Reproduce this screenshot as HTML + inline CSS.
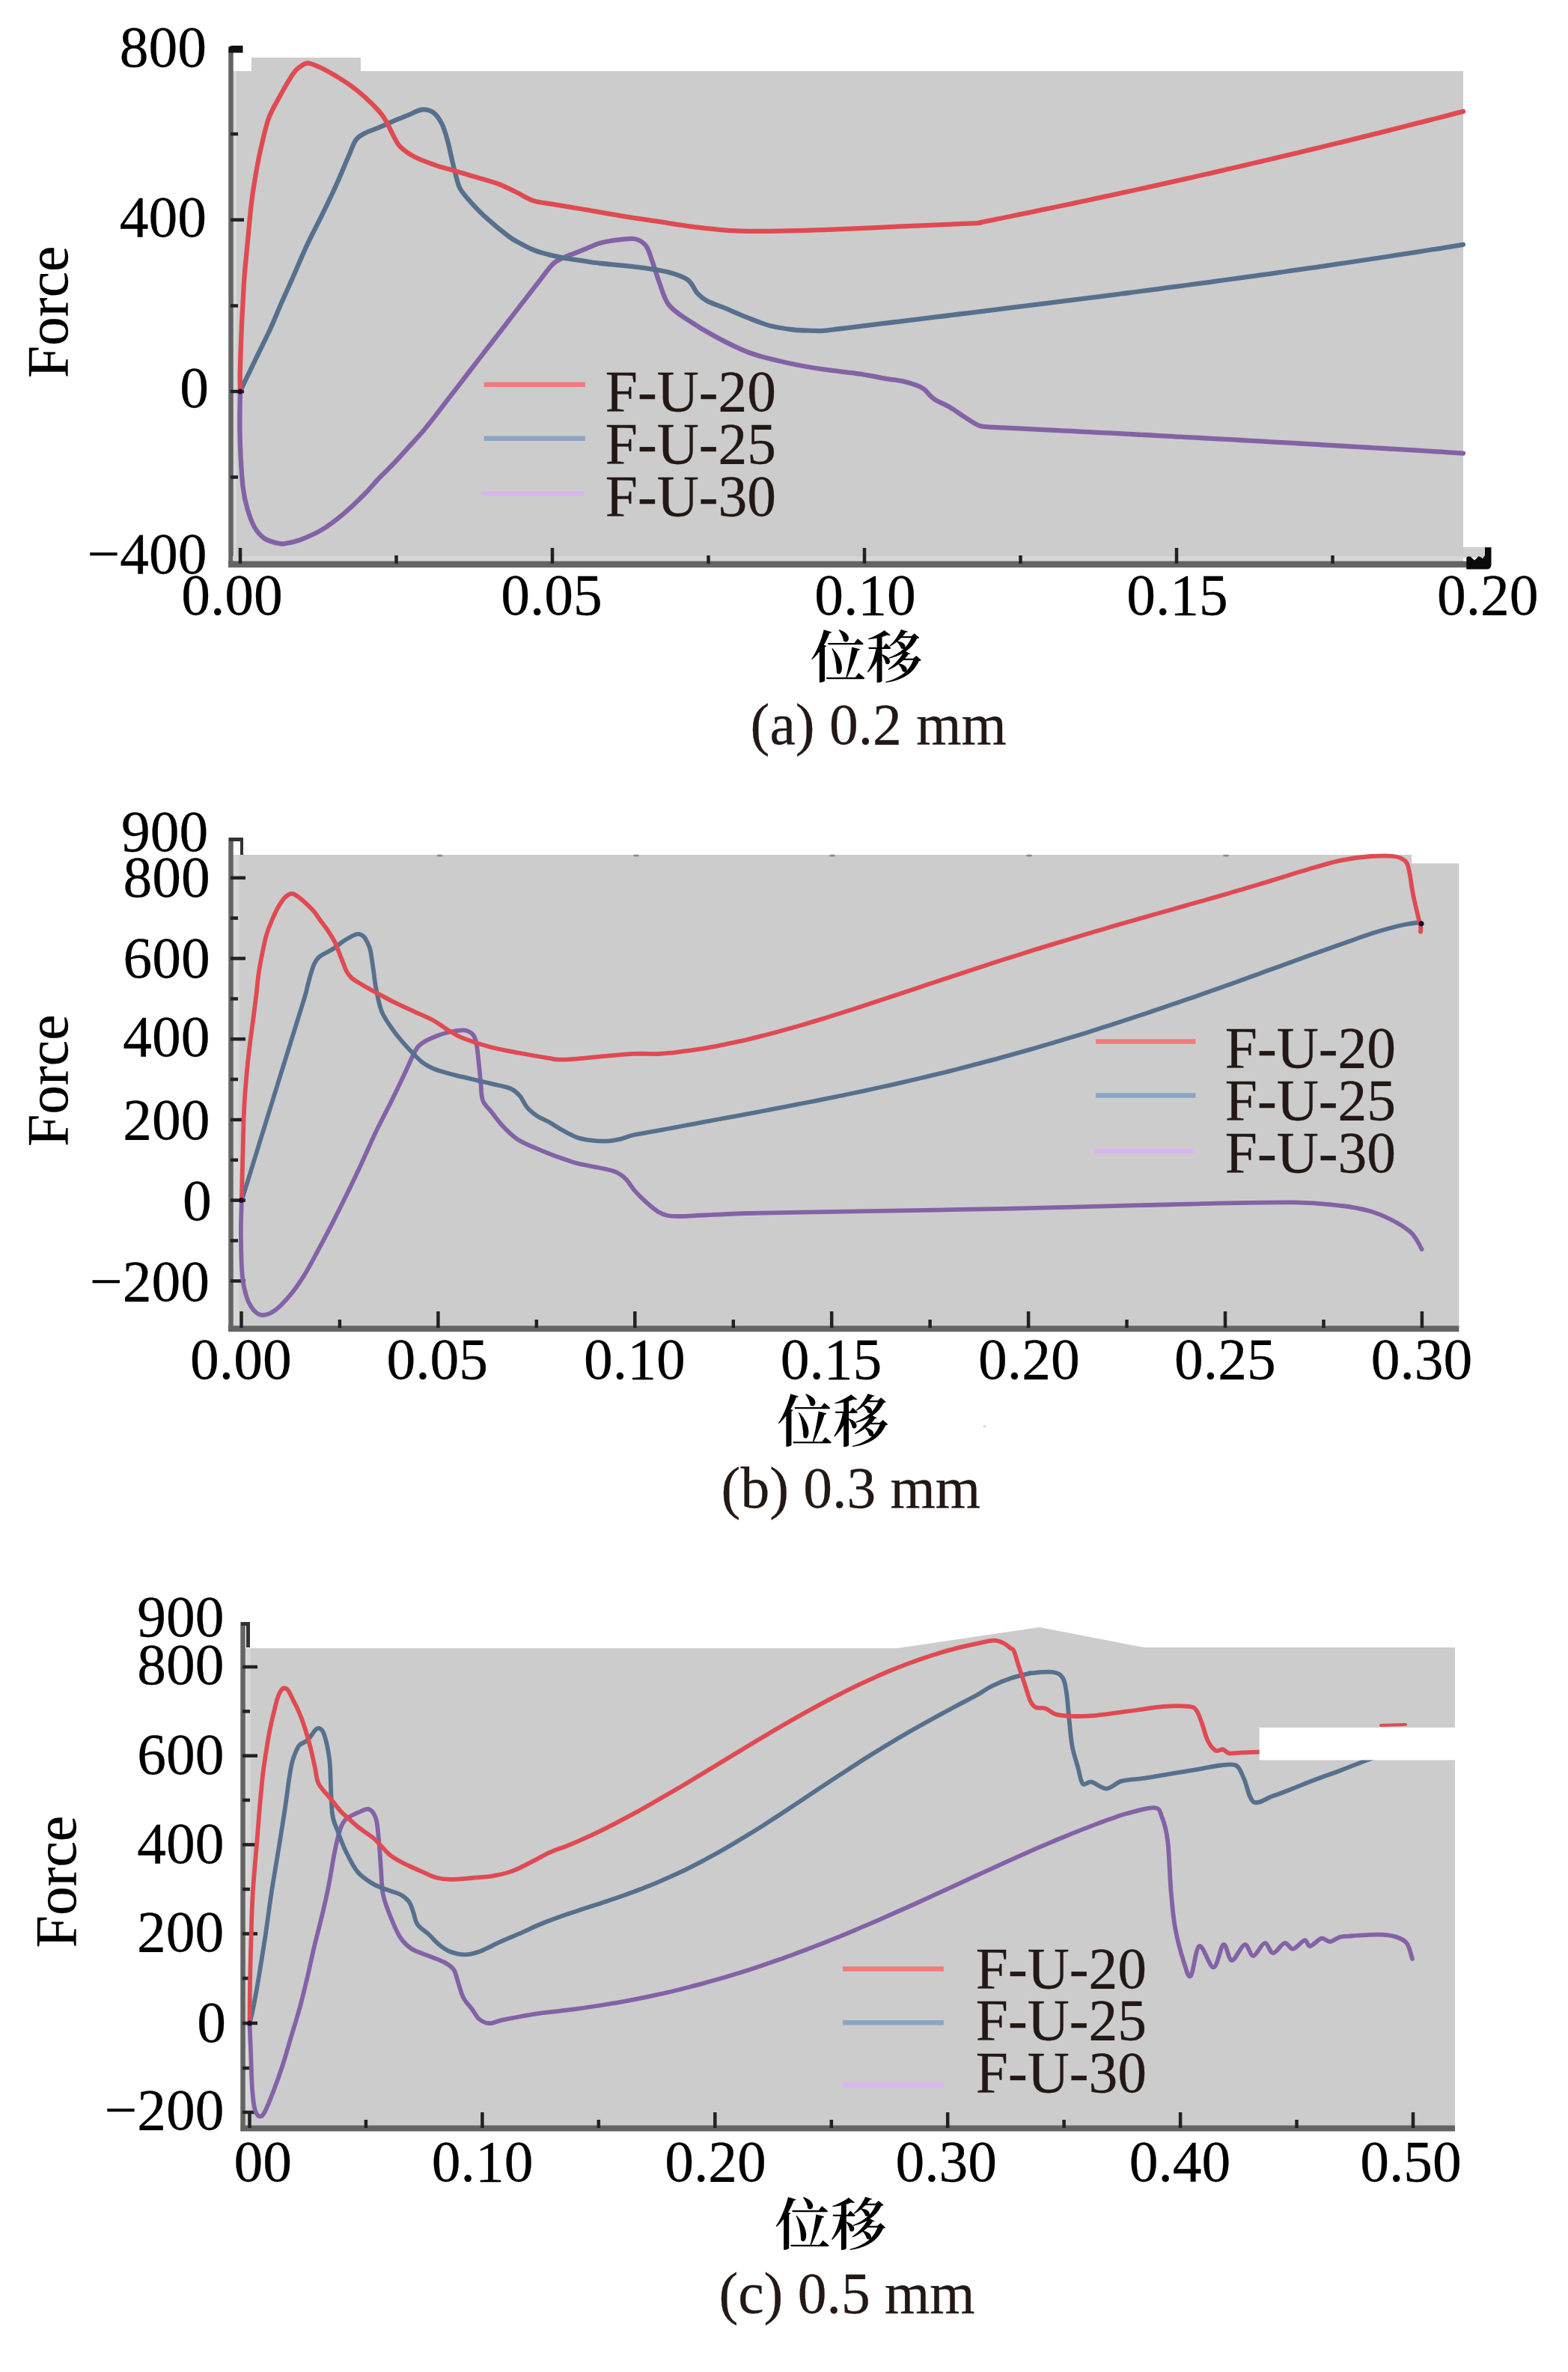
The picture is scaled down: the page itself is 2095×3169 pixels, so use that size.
<!DOCTYPE html>
<html><head><meta charset="utf-8"><title>Force-displacement curves</title>
<style>
html,body{margin:0;padding:0;background:#fff;}
body{width:2095px;height:3169px;overflow:hidden;}
svg{display:block;}
</style></head>
<body>
<svg xmlns="http://www.w3.org/2000/svg" width="2095" height="3169" viewBox="0 0 2095 3169">
<rect width="2095" height="3169" fill="#ffffff"/>
<polygon points="311,95 336,95 336,77 482,77 482,95 1955,95 1955,750 311,750" fill="#cccccc"/>
<rect x="311" y="95" width="5" height="652" fill="#d6d9d9"/>
<line x1="308.5" y1="62" x2="308.5" y2="757" stroke="#646464" stroke-width="6.5"/>
<path d="M305.5 70.5 L305.5 66 Q305.5 61 310.5 61 L324.5 61 L324.5 70.5 Z" fill="#111"/>
<line x1="308" y1="293.7" x2="326" y2="293.7" stroke="#222" stroke-width="4.5"/>
<line x1="308" y1="523" x2="326" y2="523" stroke="#222" stroke-width="4.5"/>
<line x1="308" y1="752.3" x2="326" y2="752.3" stroke="#222" stroke-width="4.5"/>
<line x1="308" y1="179" x2="318" y2="179" stroke="#222" stroke-width="4.5"/>
<line x1="308" y1="408.5" x2="318" y2="408.5" stroke="#222" stroke-width="4.5"/>
<line x1="308" y1="637.5" x2="318" y2="637.5" stroke="#222" stroke-width="4.5"/>
<rect x="311" y="743" width="1644" height="6" fill="#d6d6d6"/>
<rect x="1955" y="731" width="29" height="14" fill="#d0d0d0"/>
<line x1="305" y1="754" x2="1991" y2="754" stroke="#646464" stroke-width="8.5"/>
<line x1="321" y1="732" x2="321" y2="753" stroke="#222" stroke-width="4.5"/>
<line x1="738" y1="732" x2="738" y2="753" stroke="#222" stroke-width="4.5"/>
<line x1="1155" y1="732" x2="1155" y2="753" stroke="#222" stroke-width="4.5"/>
<line x1="1572" y1="732" x2="1572" y2="753" stroke="#222" stroke-width="4.5"/>
<line x1="529.5" y1="742" x2="529.5" y2="753" stroke="#222" stroke-width="4.5"/>
<line x1="946.5" y1="742" x2="946.5" y2="753" stroke="#222" stroke-width="4.5"/>
<line x1="1363.5" y1="742" x2="1363.5" y2="753" stroke="#222" stroke-width="4.5"/>
<line x1="1780.5" y1="742" x2="1780.5" y2="753" stroke="#222" stroke-width="4.5"/>
<path d="M1959.3 760.6 L1959.3 745 Q1962 742 1965 744 L1970 748.5 L1976 743 L1981 746 L1984 742 L1984 731.3 L1992.5 731.3 L1992.5 755 Q1992 760.6 1986 760.6 Z" fill="#0a0a0a"/>
<path d="M321.1 522.3 C321 524.5 320.8 527.1 320.7 535.7 C320.6 544.3 320.2 561.2 320.4 574 C320.6 586.8 321 599.5 321.7 612.2 C322.4 625 323.2 639.3 324.6 650.5 C326 661.7 327.8 670.3 330.3 679.2 C332.9 688.1 336.1 697.3 339.9 704 C343.7 710.7 347.9 715.6 353.3 719.3 C358.7 723 367.6 724.9 372.4 726 C377.2 727.1 377.2 726.8 382 726 C386.8 725.2 393.1 724.2 401.1 721.2 C409.1 718.2 420.2 713.6 429.8 707.9 C439.4 702.2 448.9 694.8 458.5 686.8 C468.1 678.8 479.2 668 487.2 660 C495.2 652 499.9 645.7 506.3 639 C512.7 632.3 519.1 626.5 525.5 619.8 C531.9 613.1 538.2 605.8 544.6 598.8 C551 591.8 557.3 585.3 563.7 577.8 C570.1 570.3 577.2 561.2 582.9 553.9 C588.6 546.6 593 540.8 598 534.2 C603 527.7 608.1 521.1 613.1 514.6 C618.1 508.1 623.2 501.6 628.2 495 C633.2 488.4 638.2 481.9 643.3 475.3 C648.3 468.8 653.5 462.2 658.5 455.7 C663.5 449.2 668.6 442.7 673.6 436.2 C678.6 429.7 683.7 423.1 688.7 416.6 C693.7 410.1 698.8 403.6 703.8 397.1 C708.8 390.6 713.9 384.1 718.9 377.6 C723.9 371.1 730.3 362.6 734 358.1 C737.7 353.6 738.1 352.9 741.2 350.6 C744.3 348.3 748.2 346.4 752.7 344.4 C757.2 342.3 762.9 340.3 768 338.3 C773.1 336.3 778 334.4 783.3 332.2 C788.6 330 794.4 327.1 800 325.3 C805.6 323.5 808.9 322.7 816.8 321.6 C824.7 320.6 839.7 317.9 847.4 319 C855.1 320.1 859 323.5 862.8 328 C866.6 332.5 867.4 337.7 870.4 345.8 C873.4 353.9 876.8 366.2 880.6 376.4 C884.4 386.6 887 398.5 893.4 407 C899.8 415.5 908.3 420.2 918.9 427.4 C929.5 434.6 943.6 443.2 957.1 450.4 C970.6 457.6 986.2 465.5 1000 470.8 C1013.8 476.1 1028.3 479.1 1040 482 C1051.7 484.9 1060 486.6 1070 488.5 C1080 490.4 1086.5 491.5 1100 493.4 C1113.5 495.3 1137.7 497.8 1151 499.8 C1164.3 501.8 1170.9 503.8 1180 505.3 C1189.1 506.9 1198.1 507.5 1205.5 509.1 C1212.9 510.7 1219.7 513 1224.6 514.8 C1229.5 516.6 1231.6 517.5 1234.8 520 C1238 522.5 1241 527 1243.8 529.5 C1246.6 532 1247.2 532.8 1251.4 535.3 C1255.7 537.8 1263.1 540.6 1269.3 544.2 C1275.5 547.8 1282 552.9 1288.4 556.9 C1294.8 560.9 1302.3 566.1 1307.6 568.4 C1312.9 570.6 1314.9 569.9 1320.3 570.4 C1325.7 570.9 1333.5 571 1340.1 571.3 C1346.7 571.6 1353.4 572 1360 572.3 C1366.6 572.6 1373.2 573 1379.8 573.3 C1386.4 573.6 1393 574 1399.6 574.3 C1406.2 574.6 1412.9 575 1419.5 575.3 C1426.1 575.6 1432.7 575.9 1439.3 576.3 C1445.9 576.6 1452.5 577 1459.1 577.4 C1465.7 577.8 1472.4 578.1 1479 578.4 C1485.6 578.7 1492.2 579 1498.8 579.4 C1505.4 579.8 1512 580.1 1518.6 580.5 C1525.2 580.9 1531.9 581.1 1538.5 581.5 C1545.1 581.9 1551.7 582.2 1558.3 582.6 C1564.9 583 1571.5 583.4 1578.1 583.7 C1584.7 584.1 1591.4 584.4 1598 584.7 C1604.6 585.1 1611.2 585.4 1617.8 585.8 C1624.4 586.2 1631.1 586.5 1637.7 586.9 C1644.3 587.3 1650.9 587.6 1657.5 588 C1664.1 588.4 1670.7 588.7 1677.3 589.1 C1683.9 589.5 1690.6 589.9 1697.2 590.3 C1703.8 590.7 1710.4 591 1717 591.4 C1723.6 591.8 1730.2 592.1 1736.8 592.5 C1743.4 592.9 1750.1 593.3 1756.7 593.7 C1763.3 594.1 1769.9 594.4 1776.5 594.8 C1783.1 595.2 1789.7 595.6 1796.3 596 C1802.9 596.4 1809.6 596.8 1816.2 597.2 C1822.8 597.6 1829.4 597.9 1836 598.3 C1842.6 598.7 1849.2 599.1 1855.8 599.5 C1862.4 599.9 1869.1 600.3 1875.7 600.7 C1882.3 601.1 1888.9 601.5 1895.5 601.9 C1902.1 602.3 1908.7 602.7 1915.3 603.1 C1921.9 603.5 1928.6 603.9 1935.2 604.3 C1941.8 604.7 1951.7 605.4 1955 605.6" fill="none" stroke="#8462a6" stroke-width="6.3" stroke-linejoin="round" stroke-linecap="round"/>
<path d="M321.1 522.3 C324.4 515.4 334.4 494.7 341 481 C347.6 467.3 355.2 452.3 360.9 440 C366.6 427.7 369.9 418.7 375 407 C380.1 395.3 385.6 383.4 391.5 370 C397.4 356.6 404.3 340 410.7 326.4 C417.1 312.8 423.4 301.2 429.8 288.1 C436.2 275 442.8 261.3 448.9 247.9 C454.9 234.5 461.6 218 466.1 207.8 C470.6 197.6 472.2 191.6 475.7 186.7 C479.2 181.8 482.1 180.8 487.2 178.1 C492.3 175.4 499.9 173.1 506.3 170.4 C512.7 167.7 519.1 164.5 525.5 161.8 C531.9 159.1 538.2 156.8 544.6 154.2 C551 151.6 558 147.1 563.7 146.5 C569.4 145.9 574.5 147.2 579 150.4 C583.5 153.6 587.3 159.3 590.5 165.7 C593.7 172.1 596 180.6 598.2 188.6 C600.4 196.6 602 205.5 603.9 213.5 C605.8 221.5 607.7 229.9 609.6 236.5 C611.5 243.1 611.8 247.1 615.3 253 C618.8 258.9 624.6 265.3 630.6 271.8 C636.6 278.3 642.8 284.8 651 292.2 C659.2 299.6 672.6 310.6 680 316.1 C687.4 321.6 690.2 322.5 695.3 325.3 C700.4 328.1 705.5 330.8 710.6 333 C715.7 335.2 720.8 336.8 725.9 338.3 C731 339.8 736.1 341 741.2 342.1 C746.3 343.2 751.4 344.3 756.5 345.2 C761.6 346.1 766.7 346.7 771.8 347.5 C776.9 348.3 781.7 349.1 787.1 349.8 C792.5 350.6 792.8 350.8 804.1 352 C815.4 353.2 840.2 355.4 855.1 357.3 C870 359.2 882.8 360.9 893.4 363.7 C904 366.5 912.5 369.2 918.9 373.9 C925.3 378.6 927.4 387 931.6 391.7 C935.9 396.4 938 398.5 944.4 401.9 C950.8 405.3 960.6 408.3 969.9 412.1 C979.2 415.9 990 421 1000 424.9 C1010 428.8 1020 432.9 1030 435.5 C1040 438.1 1050.8 439.4 1060 440.5 C1069.2 441.6 1078.3 441.6 1085 441.8 C1091.7 442 1094.2 442.3 1100 441.9 C1105.8 441.5 1113.3 440.3 1119.9 439.5 C1126.5 438.7 1133.2 437.9 1139.8 437.1 C1146.4 436.3 1153.1 435.4 1159.7 434.6 C1166.3 433.8 1172.9 433 1179.5 432.2 C1186.1 431.4 1192.8 430.6 1199.4 429.8 C1206 429 1212.7 428.2 1219.3 427.4 C1225.9 426.6 1232.6 425.7 1239.2 424.9 C1245.8 424.1 1252.5 423.3 1259.1 422.5 C1265.7 421.7 1272.4 420.8 1279 420 C1285.6 419.2 1292.2 418.4 1298.8 417.6 C1305.4 416.8 1312.1 415.9 1318.7 415.1 C1325.3 414.3 1332 413.5 1338.6 412.7 C1345.2 411.9 1351.9 411 1358.5 410.2 C1365.1 409.4 1371.8 408.5 1378.4 407.7 C1385 406.9 1391.7 406 1398.3 405.2 C1404.9 404.4 1411.5 403.5 1418.1 402.7 C1424.7 401.9 1431.4 401 1438 400.2 C1444.6 399.4 1451.3 398.5 1457.9 397.7 C1464.5 396.9 1471.2 396 1477.8 395.1 C1484.4 394.2 1491.1 393.4 1497.7 392.5 C1504.3 391.6 1511 390.9 1517.6 390 C1524.2 389.1 1530.8 388.3 1537.4 387.4 C1544 386.5 1550.7 385.6 1557.3 384.7 C1563.9 383.8 1570.6 383 1577.2 382.1 C1583.8 381.2 1590.5 380.3 1597.1 379.4 C1603.7 378.5 1610.4 377.7 1617 376.8 C1623.6 375.9 1630.3 374.9 1636.9 374 C1643.5 373.1 1650.1 372.2 1656.7 371.3 C1663.3 370.4 1670 369.5 1676.6 368.6 C1683.2 367.7 1689.9 366.7 1696.5 365.8 C1703.1 364.9 1709.8 363.9 1716.4 363 C1723 362.1 1729.7 361.1 1736.3 360.1 C1742.9 359.2 1749.6 358.2 1756.2 357.3 C1762.8 356.4 1769.4 355.4 1776 354.4 C1782.6 353.4 1789.3 352.5 1795.9 351.5 C1802.5 350.5 1809.2 349.5 1815.8 348.5 C1822.4 347.5 1829.1 346.5 1835.7 345.5 C1842.3 344.5 1849 343.5 1855.6 342.5 C1862.2 341.5 1868.9 340.4 1875.5 339.4 C1882.1 338.4 1888.7 337.3 1895.3 336.3 C1901.9 335.3 1908.6 334.2 1915.2 333.2 C1921.8 332.2 1928.5 331.2 1935.1 330.1 C1941.7 329 1951.7 327.4 1955 326.8" fill="none" stroke="#56708e" stroke-width="6.3" stroke-linejoin="round" stroke-linecap="round"/>
<path d="M321.1 522.3 C321.1 518.1 320.5 510.7 320.8 497 C321.1 483.3 322 456.2 322.7 440 C323.4 423.8 324.2 411.7 324.8 400 C325.4 388.3 325.4 383.6 326.5 370 C327.6 356.4 329.7 335.2 331.3 318.7 C332.9 302.2 334.2 285.2 336 270.9 C337.8 256.5 339.6 245.3 341.8 232.6 C344 219.8 346.5 206.8 349.4 194.4 C352.3 182 355.2 168.5 359 158 C362.8 147.5 367 141.1 372.4 131.2 C377.8 121.3 386.7 105.7 391.5 98.7 C396.3 91.7 397.8 91.5 401.1 89.1 C404.5 86.7 406.8 84 411.6 84.3 C416.4 84.6 423.6 88.1 429.8 91 C436 93.9 442.5 97.8 448.9 101.6 C455.3 105.4 461.7 109.4 468.1 114 C474.5 118.6 480.8 123.6 487.2 129.3 C493.6 135 501.5 143 506.3 148.4 C511.1 153.8 512.7 156.4 515.9 161.8 C519.1 167.2 522.3 175.2 525.5 181 C528.7 186.8 530.2 191.5 535 196.3 C539.8 201.1 546.2 205.6 554.2 209.7 C562.2 213.8 575.3 218.4 582.9 221.1 C590.5 223.8 592.9 223.9 600 226 C607.1 228.1 614.9 230.4 625.5 233.6 C636.1 236.8 653.2 241.2 663.8 245 C674.4 248.8 681.2 252.7 689.3 256.5 C697.4 260.3 703.7 265.2 712.2 268 C720.7 270.8 729.2 271.2 740.3 273.1 C751.4 275 763.7 276.9 778.6 279.5 C793.5 282.1 812.6 285.6 829.6 288.4 C846.6 291.2 863.6 293.6 880.6 296.1 C897.6 298.7 916.7 301.8 931.6 303.7 C946.5 305.6 958.5 306.8 969.9 307.6 C981.3 308.5 988.3 308.6 1000 308.8 C1011.7 309 1023.3 308.9 1040 308.6 C1056.7 308.3 1073.3 308.2 1100 307.2 C1126.7 306.2 1166.7 304.2 1200 302.7 C1233.3 301.2 1281.7 299.2 1300 298.3 C1318.3 297.4 1305 298 1310 297.1 C1315 296.2 1323.5 294.5 1330.2 293.1 C1336.9 291.8 1343.6 290.4 1350.3 289 C1357 287.6 1363.8 286.3 1370.5 284.9 C1377.2 283.5 1383.9 282.1 1390.6 280.7 C1397.3 279.3 1404.1 277.9 1410.8 276.5 C1417.5 275.1 1424.2 273.7 1430.9 272.3 C1437.6 270.9 1444.4 269.4 1451.1 268 C1457.8 266.6 1464.5 265.1 1471.2 263.7 C1477.9 262.3 1484.7 260.8 1491.4 259.4 C1498.1 257.9 1504.9 256.5 1511.6 255 C1518.3 253.5 1525 252.1 1531.7 250.6 C1538.4 249.1 1545.2 247.6 1551.9 246.1 C1558.6 244.6 1565.3 243.1 1572 241.6 C1578.7 240.1 1585.5 238.6 1592.2 237.1 C1598.9 235.6 1605.6 234 1612.3 232.5 C1619 231 1625.8 229.5 1632.5 227.9 C1639.2 226.3 1646 224.8 1652.7 223.2 C1659.4 221.6 1666.1 220.1 1672.8 218.5 C1679.5 216.9 1686.3 215.4 1693 213.8 C1699.7 212.2 1706.4 210.6 1713.1 209 C1719.8 207.4 1726.6 205.8 1733.3 204.2 C1740 202.6 1746.7 201 1753.4 199.4 C1760.1 197.8 1766.9 196.1 1773.6 194.5 C1780.3 192.9 1787.1 191.2 1793.8 189.6 C1800.5 187.9 1807.2 186.3 1813.9 184.6 C1820.6 182.9 1827.4 181.3 1834.1 179.6 C1840.8 177.9 1847.5 176.3 1854.2 174.6 C1860.9 172.9 1867.7 171.2 1874.4 169.5 C1881.1 167.8 1887.8 166.1 1894.5 164.4 C1901.2 162.7 1908 161 1914.7 159.3 C1921.4 157.6 1928.1 155.8 1934.8 154.1 C1941.5 152.4 1951.6 149.8 1955 148.9" fill="none" stroke="#e04a52" stroke-width="6.3" stroke-linejoin="round" stroke-linecap="round"/>
<circle cx="321" cy="523" r="3.5" fill="#1a0a2a"/>
<line x1="646.7" y1="513.8" x2="781.9" y2="513.8" stroke="#f47a7a" stroke-width="6.4"/>
<line x1="646.7" y1="585.7" x2="781.9" y2="585.7" stroke="#8ca5c3" stroke-width="6.4"/>
<line x1="644" y1="659.7" x2="780.6" y2="659.7" stroke="#d8b6f0" stroke-width="6.4"/>
<text x="808.8" y="549" text-anchor="start" font-size="77.5" font-family="'Liberation Serif','Times New Roman',serif" fill="#231815" stroke="#231815" stroke-width="0.3">F-U-20</text>
<text x="808.8" y="619" text-anchor="start" font-size="77.5" font-family="'Liberation Serif','Times New Roman',serif" fill="#231815" stroke="#231815" stroke-width="0.3">F-U-25</text>
<text x="808.8" y="689" text-anchor="start" font-size="77.5" font-family="'Liberation Serif','Times New Roman',serif" fill="#231815" stroke="#231815" stroke-width="0.3">F-U-30</text>
<text x="276" y="89.3" text-anchor="end" font-size="77.5" font-family="'Liberation Serif','Times New Roman',serif" fill="#000000" stroke="#000000" stroke-width="0.3">800</text>
<text x="276" y="316.1" text-anchor="end" font-size="77.5" font-family="'Liberation Serif','Times New Roman',serif" fill="#000000" stroke="#000000" stroke-width="0.3">400</text>
<text x="279" y="543.7" text-anchor="end" font-size="77.5" font-family="'Liberation Serif','Times New Roman',serif" fill="#000000" stroke="#000000" stroke-width="0.3">0</text>
<text x="276.5" y="765.5" text-anchor="end" font-size="77.5" font-family="'Liberation Serif','Times New Roman',serif" fill="#000000" stroke="#000000" stroke-width="0.3">−400</text>
<text x="310" y="821" text-anchor="middle" font-size="77.5" font-family="'Liberation Serif','Times New Roman',serif" fill="#000000" stroke="#000000" stroke-width="0.3">0.00</text>
<text x="737" y="821" text-anchor="middle" font-size="77.5" font-family="'Liberation Serif','Times New Roman',serif" fill="#000000" stroke="#000000" stroke-width="0.3">0.05</text>
<text x="1156" y="821" text-anchor="middle" font-size="77.5" font-family="'Liberation Serif','Times New Roman',serif" fill="#000000" stroke="#000000" stroke-width="0.3">0.10</text>
<text x="1573" y="821" text-anchor="middle" font-size="77.5" font-family="'Liberation Serif','Times New Roman',serif" fill="#000000" stroke="#000000" stroke-width="0.3">0.15</text>
<text x="1987.8" y="821" text-anchor="middle" font-size="77.5" font-family="'Liberation Serif','Times New Roman',serif" fill="#000000" stroke="#000000" stroke-width="0.3">0.20</text>
<text x="0" y="0" text-anchor="start" font-size="77.5" font-family="'Liberation Serif','Times New Roman',serif" fill="#000000" stroke="#000000" stroke-width="0.3" transform="translate(90 505) rotate(-90)">Force</text>
<text x="1083" y="905" text-anchor="start" font-size="74.5" font-family="'Noto Serif CJK SC','Noto Serif CJK JP',serif" fill="#000000" font-weight="600">位移</text>
<text x="1002.6" y="993.5" text-anchor="start" font-size="77.5" font-family="'Liberation Serif','Times New Roman',serif" fill="#231815" stroke="#231815" stroke-width="0.3">(a) 0.2 mm</text>
<polygon points="311,1142 1886,1142 1886,1153.4 1949.4,1153.4 1949.4,1772 311,1772" fill="#cccccc"/>
<rect x="311" y="1142" width="8.5" height="628" fill="#d7d7d7"/>
<line x1="308.5" y1="1119" x2="308.5" y2="1779" stroke="#646464" stroke-width="6.5"/>
<path d="M306 1119 L325 1119 L325 1142 L321 1142 L321 1124 L306 1124 Z" fill="#333"/>
<line x1="308" y1="1172.8" x2="328" y2="1172.8" stroke="#222" stroke-width="4.5"/>
<line x1="308" y1="1280.5" x2="328" y2="1280.5" stroke="#222" stroke-width="4.5"/>
<line x1="308" y1="1388.2" x2="328" y2="1388.2" stroke="#222" stroke-width="4.5"/>
<line x1="308" y1="1496" x2="328" y2="1496" stroke="#222" stroke-width="4.5"/>
<line x1="308" y1="1603.6" x2="328" y2="1603.6" stroke="#222" stroke-width="4.5"/>
<line x1="308" y1="1711.4" x2="328" y2="1711.4" stroke="#222" stroke-width="4.5"/>
<line x1="308" y1="1226.6" x2="318" y2="1226.6" stroke="#222" stroke-width="4.5"/>
<line x1="308" y1="1334.4" x2="318" y2="1334.4" stroke="#222" stroke-width="4.5"/>
<line x1="308" y1="1442" x2="318" y2="1442" stroke="#222" stroke-width="4.5"/>
<line x1="308" y1="1549.8" x2="318" y2="1549.8" stroke="#222" stroke-width="4.5"/>
<line x1="308" y1="1657.5" x2="318" y2="1657.5" stroke="#222" stroke-width="4.5"/>
<line x1="305" y1="1775.3" x2="1949.4" y2="1775.3" stroke="#646464" stroke-width="8"/>
<line x1="322.5" y1="1752" x2="322.5" y2="1774" stroke="#222" stroke-width="4.5"/>
<line x1="585.4" y1="1752" x2="585.4" y2="1774" stroke="#222" stroke-width="4.5"/>
<line x1="848.3" y1="1752" x2="848.3" y2="1774" stroke="#222" stroke-width="4.5"/>
<line x1="1111.2" y1="1752" x2="1111.2" y2="1774" stroke="#222" stroke-width="4.5"/>
<line x1="1374.1" y1="1752" x2="1374.1" y2="1774" stroke="#222" stroke-width="4.5"/>
<line x1="1637" y1="1752" x2="1637" y2="1774" stroke="#222" stroke-width="4.5"/>
<line x1="1899.9" y1="1752" x2="1899.9" y2="1774" stroke="#222" stroke-width="4.5"/>
<line x1="453.9" y1="1763" x2="453.9" y2="1774" stroke="#222" stroke-width="4.5"/>
<line x1="716.8" y1="1763" x2="716.8" y2="1774" stroke="#222" stroke-width="4.5"/>
<line x1="979.8" y1="1763" x2="979.8" y2="1774" stroke="#222" stroke-width="4.5"/>
<line x1="1242.6" y1="1763" x2="1242.6" y2="1774" stroke="#222" stroke-width="4.5"/>
<line x1="1505.5" y1="1763" x2="1505.5" y2="1774" stroke="#222" stroke-width="4.5"/>
<line x1="1768.5" y1="1763" x2="1768.5" y2="1774" stroke="#222" stroke-width="4.5"/>
<ellipse cx="587.5" cy="1143" rx="4" ry="1.6" fill="#8c8c8c"/>
<ellipse cx="850" cy="1143" rx="4" ry="1.6" fill="#8c8c8c"/>
<ellipse cx="1112" cy="1143" rx="4" ry="1.6" fill="#8c8c8c"/>
<ellipse cx="1375" cy="1143" rx="4" ry="1.6" fill="#8c8c8c"/>
<ellipse cx="1638" cy="1143" rx="4" ry="1.6" fill="#8c8c8c"/>
<ellipse cx="1315.5" cy="1905.5" rx="2.2" ry="0.8" fill="#b0b0b0"/>
<path d="M322.9 1604 C322.7 1611.2 321.8 1630.3 321.9 1647 C322 1663.7 322.5 1690.1 323.8 1704.4 C325.1 1718.7 327.1 1725.3 329.6 1733 C332.1 1740.7 335.5 1746.3 339 1750.3 C342.5 1754.3 345.8 1757 350.6 1757 C355.4 1757 361.7 1754.6 367.8 1750.3 C373.9 1746 380.6 1738.8 387 1731.2 C393.4 1723.6 399.7 1714.6 406.1 1704.4 C412.5 1694.2 418.8 1681.8 425.2 1670 C431.6 1658.2 438 1646 444.4 1633.6 C450.8 1621.1 457.1 1608.4 463.5 1595.3 C469.9 1582.2 476.2 1568.9 482.6 1555.2 C489 1541.5 495 1527.2 501.8 1513 C508.6 1498.8 517 1483.2 523.5 1470 C530 1456.8 535.7 1444.8 540.8 1434 C545.9 1423.2 550.4 1412 554.2 1405.3 C558 1398.6 558.9 1397.4 563.7 1393.9 C568.5 1390.4 576.5 1386.9 582.9 1384.3 C589.3 1381.7 595.8 1379.8 602 1378.5 C608.2 1377.2 615.2 1375.8 620.2 1376.4 C625.2 1377 629 1379.2 631.7 1382.1 C634.4 1385 635.1 1387.9 636.4 1393.6 C637.7 1399.3 638.3 1407.9 639.3 1416.5 C640.3 1425.1 641.2 1436.3 642.2 1445.2 C643.2 1454.1 642.6 1463.4 645 1470.1 C647.4 1476.8 652 1479.7 656.5 1485.4 C661 1491.1 666 1498.4 671.8 1504.5 C677.5 1510.6 684 1517 691 1521.8 C698 1526.6 705.3 1529.4 713.9 1533.2 C722.5 1537 733 1541.2 742.6 1544.7 C752.2 1548.2 761.7 1551.8 771.3 1554.3 C780.9 1556.8 791.4 1558.1 800 1560 C808.6 1561.9 816.9 1563.2 823 1565.8 C829.1 1568.3 832.2 1571.2 836.4 1575.3 C840.5 1579.4 843.4 1585.5 847.9 1590.6 C852.4 1595.7 857.9 1601.2 863.2 1606 C868.6 1610.8 875.2 1616.3 880 1619.3 C884.8 1622.3 887 1623 892 1624 C897 1625 902 1625.1 910 1625 C918 1624.9 925 1624.2 940 1623.5 C955 1622.8 976 1621.7 1000 1621 C1024 1620.3 1027 1620.3 1084 1619.3 C1141 1618.3 1256 1616.6 1342 1614.8 C1428 1613 1535.5 1609.7 1600 1608.3 C1664.5 1606.9 1696.5 1606 1728.7 1606.4 C1760.9 1606.9 1776.1 1609.1 1793 1611 C1809.9 1612.9 1819.2 1615 1830 1618 C1840.8 1621 1848.8 1624.5 1857.7 1629 C1866.6 1633.5 1877.6 1640.3 1883.5 1645 C1889.4 1649.7 1890.3 1653 1893 1657 C1895.7 1661 1898.5 1667 1899.6 1669" fill="none" stroke="#8462a6" stroke-width="5.8" stroke-linejoin="round" stroke-linecap="round"/>
<path d="M322.9 1604 C329.8 1581.8 350.4 1515 364 1471 C377.6 1427 397 1365.3 404.7 1340 C412.4 1314.7 408.6 1325.9 410.4 1319.3 C412.2 1312.7 413.9 1305.5 415.5 1300.2 C417.1 1294.9 418.3 1290.9 420 1287.4 C421.7 1283.9 423.3 1281.4 425.7 1279.1 C428.1 1276.8 431.2 1275.4 434.6 1273.4 C438 1271.4 442.4 1269.5 446.1 1267 C449.8 1264.5 453.1 1261.4 457 1258.7 C460.9 1256 466.1 1252.8 469.7 1251 C473.3 1249.2 475.9 1247.9 478.6 1247.9 C481.3 1247.9 483.8 1249.4 485.7 1251 C487.6 1252.6 488.5 1254.3 490 1257.4 C491.5 1260.5 493.4 1263.3 494.8 1269.5 C496.2 1275.7 497.4 1285.8 498.7 1294.4 C500 1303 500.6 1311.5 502.5 1321.1 C504.4 1330.7 506.4 1342.5 510.2 1351.8 C514 1361 519.8 1368.6 525.5 1376.6 C531.2 1384.6 538.2 1392.6 544.6 1399.6 C551 1406.6 557.8 1414 563.7 1418.7 C569.6 1423.4 575.2 1425.8 580 1428 C584.8 1430.2 587.6 1430.7 592.4 1432.1 C597.2 1433.5 601.2 1434.7 608.7 1436.6 C616.2 1438.5 627.8 1441.1 637.4 1443.3 C647 1445.5 658.5 1448.1 666.1 1450 C673.8 1451.9 678.5 1452.4 683.3 1454.8 C688.1 1457.2 691.3 1460.2 694.8 1464.4 C698.3 1468.6 700.6 1475.2 704.4 1479.7 C708.2 1484.2 713 1487.9 717.8 1491.1 C722.6 1494.3 727.3 1495.6 733 1498.8 C738.7 1502 745.8 1506.8 752.2 1510.3 C758.6 1513.8 764.9 1517.6 771.3 1519.8 C777.7 1522 784.1 1522.9 790.5 1523.7 C796.9 1524.5 803.2 1524.9 809.6 1524.6 C816 1524.3 822.3 1523.2 828.7 1521.8 C835.1 1520.4 839.4 1517.9 847.9 1516 C856.4 1514.1 871.4 1511.9 880 1510.3 C888.6 1508.7 893.2 1507.8 899.8 1506.6 C906.4 1505.4 913 1504.1 919.6 1502.9 C926.2 1501.7 932.8 1500.4 939.4 1499.2 C946 1498 952.6 1496.7 959.2 1495.5 C965.8 1494.3 972.4 1493.1 979 1491.9 C985.6 1490.7 992.2 1489.4 998.8 1488.2 C1005.4 1487 1011.9 1485.8 1018.5 1484.5 C1025.1 1483.2 1031.7 1482 1038.3 1480.7 C1044.9 1479.4 1051.5 1478.2 1058.1 1476.9 C1064.7 1475.6 1071.3 1474.3 1077.9 1473 C1084.5 1471.7 1091.1 1470.4 1097.7 1469.1 C1104.3 1467.8 1110.9 1466.4 1117.5 1465.1 C1124.1 1463.8 1130.7 1462.4 1137.3 1461 C1143.9 1459.6 1150.5 1458.2 1157.1 1456.8 C1163.7 1455.4 1170.3 1454 1176.9 1452.5 C1183.5 1451 1190.1 1449.6 1196.7 1448.1 C1203.3 1446.6 1209.9 1445 1216.5 1443.5 C1223.1 1442 1229.6 1440.5 1236.2 1438.9 C1242.8 1437.3 1249.4 1435.7 1256 1434.1 C1262.6 1432.5 1269.2 1430.9 1275.8 1429.2 C1282.4 1427.5 1289 1425.8 1295.6 1424.1 C1302.2 1422.4 1308.8 1420.7 1315.4 1418.9 C1322 1417.2 1328.6 1415.4 1335.2 1413.6 C1341.8 1411.8 1348.4 1409.9 1355 1408.1 C1361.6 1406.3 1368.2 1404.5 1374.8 1402.6 C1381.4 1400.7 1388 1398.7 1394.6 1396.8 C1401.2 1394.9 1407.8 1393 1414.4 1391 C1421 1389 1427.6 1387 1434.2 1385 C1440.8 1383 1447.4 1381 1454 1378.9 C1460.6 1376.8 1467.2 1374.7 1473.8 1372.6 C1480.4 1370.5 1486.9 1368.3 1493.5 1366.2 C1500.1 1364.1 1506.7 1362 1513.3 1359.8 C1519.9 1357.6 1526.5 1355.4 1533.1 1353.2 C1539.7 1351 1546.3 1348.8 1552.9 1346.5 C1559.5 1344.2 1566.1 1342 1572.7 1339.7 C1579.3 1337.4 1585.9 1335.2 1592.5 1332.9 C1599.1 1330.6 1605.7 1328.2 1612.3 1325.9 C1618.9 1323.6 1625.5 1321.2 1632.1 1318.9 C1638.7 1316.6 1645.3 1314.3 1651.9 1311.9 C1658.5 1309.5 1665.1 1307.1 1671.7 1304.7 C1678.3 1302.3 1684.9 1300 1691.5 1297.6 C1698.1 1295.2 1704.6 1292.9 1711.2 1290.5 C1717.8 1288.1 1724.4 1285.7 1731 1283.3 C1737.6 1280.9 1744.2 1278.5 1750.8 1276.1 C1757.4 1273.7 1764 1271.4 1770.6 1269 C1777.2 1266.6 1783.8 1264.2 1790.4 1261.9 C1797 1259.6 1803.6 1257.2 1810.2 1254.9 C1816.8 1252.6 1822.2 1250.4 1830 1247.9 C1837.8 1245.4 1849.1 1242.2 1857.1 1240 C1865.1 1237.8 1871.6 1236.2 1878 1235 C1884.4 1233.8 1891.9 1232.8 1895.4 1232.5 C1898.9 1232.2 1898.4 1233.3 1899 1233.5" fill="none" stroke="#56708e" stroke-width="5.8" stroke-linejoin="round" stroke-linecap="round"/>
<path d="M322.9 1604 C323.1 1595 323.7 1568.3 324.2 1550 C324.7 1531.7 325.1 1509 325.7 1494 C326.2 1479 326.6 1472.3 327.5 1460 C328.4 1447.7 329.8 1431.7 331 1420 C332.2 1408.3 333.2 1400 334.5 1390 C335.8 1380 337.2 1370 338.5 1360 C339.8 1350 341.1 1339.8 342.3 1330 C343.5 1320.2 344.2 1310.2 345.5 1301.2 C346.8 1292.2 348.3 1284.2 350 1275.7 C351.7 1267.2 353.6 1257.7 355.7 1250.2 C357.8 1242.8 360.1 1237.2 362.7 1231 C365.2 1224.8 368 1218.5 371 1213.2 C374 1207.9 377.4 1202.3 380.6 1199.1 C383.8 1195.9 387 1194 390.2 1194 C393.4 1194 396.5 1196.9 399.7 1199.1 C402.9 1201.3 405.9 1204.2 409.3 1207.4 C412.7 1210.6 416.8 1214.5 420 1218.3 C423.2 1222.1 425.3 1225.9 428.3 1230 C431.3 1234.1 434.6 1238 437.8 1242.8 C441 1247.6 444.7 1253.4 447.4 1258.7 C450.1 1264 451.9 1269.8 453.8 1274.6 C455.7 1279.4 457.3 1283.5 458.9 1287.4 C460.5 1291.3 461.5 1295 463.3 1298.2 C465.1 1301.4 467 1304 469.7 1306.5 C472.4 1309 475.9 1310.8 479.3 1312.9 C482.7 1315 487.1 1317.6 490 1319.3 C492.9 1321 490.9 1319.8 496.8 1323 C502.7 1326.2 515.9 1333.6 525.5 1338.4 C535.1 1343.2 545.3 1347.7 554.2 1351.8 C563.1 1355.9 571.5 1359.1 579 1363.2 C586.5 1367.3 592.6 1372.5 599.1 1376.4 C605.6 1380.4 608.7 1383.1 618.3 1386.9 C627.9 1390.7 643.8 1396 656.5 1399.3 C669.2 1402.6 682 1404.6 694.8 1407 C707.5 1409.4 724.4 1412.3 733 1413.7 C741.6 1415.1 740.1 1415.4 746.5 1415.6 C752.9 1415.8 760.8 1415.4 771.3 1414.6 C781.8 1413.8 796.8 1411.9 809.6 1410.8 C822.4 1409.7 836.2 1408.4 847.9 1407.9 C859.6 1407.4 871.4 1408.3 880 1408 C888.6 1407.7 893.2 1407 899.8 1406.3 C906.4 1405.6 912.9 1404.7 919.5 1403.8 C926.1 1402.9 932.7 1401.9 939.3 1400.8 C945.9 1399.7 952.4 1398.6 959 1397.3 C965.6 1396 972.2 1394.6 978.8 1393.2 C985.4 1391.8 992 1390.3 998.6 1388.8 C1005.2 1387.2 1011.7 1385.6 1018.3 1383.9 C1024.9 1382.2 1031.5 1380.6 1038.1 1378.8 C1044.7 1377 1051.3 1375.2 1057.9 1373.3 C1064.5 1371.4 1071 1369.5 1077.6 1367.6 C1084.2 1365.6 1090.8 1363.6 1097.4 1361.6 C1104 1359.6 1110.5 1357.6 1117.1 1355.5 C1123.7 1353.4 1130.3 1351.3 1136.9 1349.2 C1143.5 1347.1 1150.1 1345 1156.7 1342.8 C1163.3 1340.6 1169.8 1338.5 1176.4 1336.3 C1183 1334.1 1189.6 1332 1196.2 1329.8 C1202.8 1327.6 1209.4 1325.4 1216 1323.2 C1222.6 1321 1229.1 1318.8 1235.7 1316.6 C1242.3 1314.4 1248.9 1312.3 1255.5 1310.1 C1262.1 1307.9 1268.6 1305.7 1275.2 1303.5 C1281.8 1301.3 1288.4 1299.2 1295 1297 C1301.6 1294.8 1308.2 1292.7 1314.8 1290.5 C1321.4 1288.3 1327.9 1286.2 1334.5 1284.1 C1341.1 1282 1347.7 1279.9 1354.3 1277.8 C1360.9 1275.7 1367.4 1273.7 1374 1271.6 C1380.6 1269.5 1387.2 1267.4 1393.8 1265.4 C1400.4 1263.4 1407 1261.4 1413.6 1259.4 C1420.2 1257.4 1426.7 1255.4 1433.3 1253.4 C1439.9 1251.4 1446.5 1249.5 1453.1 1247.5 C1459.7 1245.5 1466.3 1243.6 1472.9 1241.7 C1479.5 1239.8 1486 1237.8 1492.6 1235.9 C1499.2 1234 1505.8 1232.1 1512.4 1230.2 C1519 1228.3 1525.5 1226.5 1532.1 1224.6 C1538.7 1222.7 1545.3 1220.9 1551.9 1219 C1558.5 1217.1 1565.1 1215.3 1571.7 1213.4 C1578.3 1211.5 1584.8 1209.7 1591.4 1207.8 C1598 1205.9 1604.6 1204.1 1611.2 1202.2 C1617.8 1200.3 1624.4 1198.5 1631 1196.6 C1637.6 1194.7 1644.1 1192.7 1650.7 1190.8 C1657.3 1188.9 1663.9 1187 1670.5 1185 C1677.1 1183 1683.6 1181.1 1690.2 1179.1 C1696.8 1177.1 1699.2 1176.3 1710 1173 C1720.8 1169.7 1741.2 1163.3 1755.1 1159.3 C1769 1155.3 1780.7 1151.6 1793.4 1149.1 C1806.2 1146.5 1820.1 1144.8 1831.6 1144 C1843.1 1143.2 1854.5 1142.9 1862.2 1144 C1869.9 1145.1 1874.2 1147.2 1877.6 1150.4 C1881 1153.6 1881 1156 1882.7 1163.2 C1884.4 1170.4 1885.9 1184 1887.8 1193.8 C1889.7 1203.6 1892.4 1214.6 1894.1 1221.8 C1895.8 1229 1897.3 1233.3 1898 1237.1 C1898.7 1240.9 1898 1243.5 1898 1244.8" fill="none" stroke="#e04a52" stroke-width="5.8" stroke-linejoin="round" stroke-linecap="round"/>
<circle cx="322.5" cy="1603.5" r="3.5" fill="#1a0a2a"/>
<circle cx="1899" cy="1234" r="3.5" fill="#1a0a2a"/>
<line x1="1464" y1="1391.5" x2="1597.5" y2="1391.5" stroke="#f47a7a" stroke-width="6.4"/>
<line x1="1464" y1="1463.5" x2="1597.5" y2="1463.5" stroke="#8ca5c3" stroke-width="6.4"/>
<line x1="1462" y1="1538" x2="1596" y2="1538" stroke="#d8b6f0" stroke-width="6.4"/>
<text x="1636.8" y="1426" text-anchor="start" font-size="77.5" font-family="'Liberation Serif','Times New Roman',serif" fill="#231815" stroke="#231815" stroke-width="0.3">F-U-20</text>
<text x="1636.8" y="1496" text-anchor="start" font-size="77.5" font-family="'Liberation Serif','Times New Roman',serif" fill="#231815" stroke="#231815" stroke-width="0.3">F-U-25</text>
<text x="1636.8" y="1566" text-anchor="start" font-size="77.5" font-family="'Liberation Serif','Times New Roman',serif" fill="#231815" stroke="#231815" stroke-width="0.3">F-U-30</text>
<text x="278.3" y="1137.2" text-anchor="end" font-size="77.5" font-family="'Liberation Serif','Times New Roman',serif" fill="#000000" stroke="#000000" stroke-width="0.3">900</text>
<text x="280.8" y="1197.5" text-anchor="end" font-size="77.5" font-family="'Liberation Serif','Times New Roman',serif" fill="#000000" stroke="#000000" stroke-width="0.3">800</text>
<text x="280.8" y="1305.5" text-anchor="end" font-size="77.5" font-family="'Liberation Serif','Times New Roman',serif" fill="#000000" stroke="#000000" stroke-width="0.3">600</text>
<text x="280.4" y="1410.8" text-anchor="end" font-size="77.5" font-family="'Liberation Serif','Times New Roman',serif" fill="#000000" stroke="#000000" stroke-width="0.3">400</text>
<text x="280.4" y="1521.8" text-anchor="end" font-size="77.5" font-family="'Liberation Serif','Times New Roman',serif" fill="#000000" stroke="#000000" stroke-width="0.3">200</text>
<text x="282.8" y="1629.8" text-anchor="end" font-size="77.5" font-family="'Liberation Serif','Times New Roman',serif" fill="#000000" stroke="#000000" stroke-width="0.3">0</text>
<text x="280" y="1738.3" text-anchor="end" font-size="77.5" font-family="'Liberation Serif','Times New Roman',serif" fill="#000000" stroke="#000000" stroke-width="0.3">−200</text>
<text x="321.9" y="1842" text-anchor="middle" font-size="77.5" font-family="'Liberation Serif','Times New Roman',serif" fill="#000000" stroke="#000000" stroke-width="0.3">0.00</text>
<text x="584.2" y="1842" text-anchor="middle" font-size="77.5" font-family="'Liberation Serif','Times New Roman',serif" fill="#000000" stroke="#000000" stroke-width="0.3">0.05</text>
<text x="847.9" y="1842" text-anchor="middle" font-size="77.5" font-family="'Liberation Serif','Times New Roman',serif" fill="#000000" stroke="#000000" stroke-width="0.3">0.10</text>
<text x="1110.5" y="1842" text-anchor="middle" font-size="77.5" font-family="'Liberation Serif','Times New Roman',serif" fill="#000000" stroke="#000000" stroke-width="0.3">0.15</text>
<text x="1374.9" y="1842" text-anchor="middle" font-size="77.5" font-family="'Liberation Serif','Times New Roman',serif" fill="#000000" stroke="#000000" stroke-width="0.3">0.20</text>
<text x="1636.9" y="1842" text-anchor="middle" font-size="77.5" font-family="'Liberation Serif','Times New Roman',serif" fill="#000000" stroke="#000000" stroke-width="0.3">0.25</text>
<text x="1899.5" y="1842" text-anchor="middle" font-size="77.5" font-family="'Liberation Serif','Times New Roman',serif" fill="#000000" stroke="#000000" stroke-width="0.3">0.30</text>
<text x="0" y="0" text-anchor="start" font-size="77.5" font-family="'Liberation Serif','Times New Roman',serif" fill="#000000" stroke="#000000" stroke-width="0.3" transform="translate(89.5 1531.8) rotate(-90)">Force</text>
<text x="1038.4" y="1926.4" text-anchor="start" font-size="74.5" font-family="'Noto Serif CJK SC','Noto Serif CJK JP',serif" fill="#000000" font-weight="600">位移</text>
<text x="963.6" y="2014.3" text-anchor="start" font-size="77.5" font-family="'Liberation Serif','Times New Roman',serif" fill="#231815" stroke="#231815" stroke-width="0.3">(b) 0.3 mm</text>
<polygon points="329,2202 1199,2202 1389,2174 1529,2201 1944,2201 1944,2841 329,2841" fill="#cccccc"/>
<rect x="327" y="2202" width="8" height="638" fill="#d7d7d7"/>
<line x1="324.5" y1="2167" x2="324.5" y2="2847" stroke="#646464" stroke-width="6.5"/>
<path d="M322 2167 L334 2167 L334 2201 L329 2201 L329 2172 L322 2172 Z" fill="#333"/>
<line x1="324" y1="2227" x2="344" y2="2227" stroke="#222" stroke-width="4.5"/>
<line x1="324" y1="2345.7" x2="344" y2="2345.7" stroke="#222" stroke-width="4.5"/>
<line x1="324" y1="2464.5" x2="344" y2="2464.5" stroke="#222" stroke-width="4.5"/>
<line x1="324" y1="2583.5" x2="344" y2="2583.5" stroke="#222" stroke-width="4.5"/>
<line x1="324" y1="2703" x2="344" y2="2703" stroke="#222" stroke-width="4.5"/>
<line x1="324" y1="2822" x2="344" y2="2822" stroke="#222" stroke-width="4.5"/>
<line x1="324" y1="2286.4" x2="334" y2="2286.4" stroke="#222" stroke-width="4.5"/>
<line x1="324" y1="2405" x2="334" y2="2405" stroke="#222" stroke-width="4.5"/>
<line x1="324" y1="2524" x2="334" y2="2524" stroke="#222" stroke-width="4.5"/>
<line x1="324" y1="2643" x2="334" y2="2643" stroke="#222" stroke-width="4.5"/>
<line x1="324" y1="2763" x2="334" y2="2763" stroke="#222" stroke-width="4.5"/>
<line x1="321.5" y1="2843.6" x2="1944" y2="2843.6" stroke="#646464" stroke-width="8"/>
<line x1="333.5" y1="2822" x2="333.5" y2="2843" stroke="#222" stroke-width="4.5"/>
<line x1="644.4" y1="2822" x2="644.4" y2="2843" stroke="#222" stroke-width="4.5"/>
<line x1="955.3" y1="2822" x2="955.3" y2="2843" stroke="#222" stroke-width="4.5"/>
<line x1="1266.2" y1="2822" x2="1266.2" y2="2843" stroke="#222" stroke-width="4.5"/>
<line x1="1577.1" y1="2822" x2="1577.1" y2="2843" stroke="#222" stroke-width="4.5"/>
<line x1="1888" y1="2822" x2="1888" y2="2843" stroke="#222" stroke-width="4.5"/>
<line x1="488.9" y1="2832" x2="488.9" y2="2843" stroke="#222" stroke-width="4.5"/>
<line x1="799.8" y1="2832" x2="799.8" y2="2843" stroke="#222" stroke-width="4.5"/>
<line x1="1110.8" y1="2832" x2="1110.8" y2="2843" stroke="#222" stroke-width="4.5"/>
<line x1="1421.6" y1="2832" x2="1421.6" y2="2843" stroke="#222" stroke-width="4.5"/>
<line x1="1732.5" y1="2832" x2="1732.5" y2="2843" stroke="#222" stroke-width="4.5"/>
<path d="M333.5 2703 C333.8 2709.2 334.4 2725.3 335 2740 C335.6 2754.7 336 2777.8 337 2791 C338 2804.2 339 2812.9 340.8 2819 C342.6 2825.1 345.5 2827.6 347.8 2827.7 C350.1 2827.8 351.7 2825.5 354.8 2819.4 C357.9 2813.3 362.4 2801.5 366.3 2791.3 C370.2 2781.1 374.2 2769.9 378 2758 C381.8 2746.1 385.6 2732.6 389.3 2720 C393.1 2707.4 396.9 2695.4 400.5 2682.4 C404.1 2669.4 407.4 2655.4 410.6 2641.9 C413.8 2628.4 416.5 2614.9 419.7 2601.4 C422.9 2587.9 426.6 2574.5 429.8 2561 C433 2547.5 436.2 2534 438.9 2520.5 C441.6 2507 444.1 2490.1 446 2480 C447.9 2469.9 448.8 2465.9 450.2 2460 C451.6 2454.1 453 2448.4 454.4 2444.3 C455.8 2440.2 456.7 2437.9 458.3 2435.3 C459.9 2432.8 461.3 2430.9 463.9 2429 C466.4 2427.1 471.1 2425.1 473.6 2423.8 C476.2 2422.5 476 2422.4 479.2 2421.3 C482.4 2420.2 488.8 2415.6 492.7 2417 C496.6 2418.4 500.1 2422.7 502.3 2429.6 C504.5 2436.5 505 2447.2 506.1 2458.3 C507.2 2469.5 508.1 2484.4 509 2496.5 C509.9 2508.6 509.7 2520.5 511.8 2531 C513.9 2541.5 517.6 2550.1 521.4 2559.7 C525.2 2569.3 530 2581.1 534.8 2588.4 C539.6 2595.7 543.7 2599.6 550.1 2603.7 C556.5 2607.8 566.1 2610.3 573.1 2613.2 C580.1 2616.1 586.8 2618 592.2 2620.9 C597.6 2623.8 602.4 2626.3 605.6 2630.5 C608.8 2634.7 609.1 2639.4 611.3 2645.8 C613.5 2652.2 615.8 2662.3 619 2668.7 C622.2 2675.1 627 2679.2 630.5 2684 C634 2688.8 636.2 2694.2 640 2697.4 C643.8 2700.6 648.6 2702.9 653.4 2703.2 C658.2 2703.5 663 2700.6 668.7 2699.3 C674.5 2698 679.4 2697.1 687.9 2695.5 C696.4 2693.9 711.3 2691.2 720 2689.9 C728.7 2688.6 733.4 2688.5 740.1 2687.7 C746.8 2686.9 753.5 2686.1 760.2 2685.2 C766.9 2684.3 773.6 2683.4 780.3 2682.5 C787 2681.6 793.7 2680.6 800.4 2679.5 C807.1 2678.4 813.8 2677.3 820.5 2676.2 C827.2 2675 833.9 2673.9 840.6 2672.6 C847.3 2671.3 854 2670 860.7 2668.6 C867.4 2667.2 874.1 2665.8 880.8 2664.3 C887.5 2662.8 894.2 2661.3 900.9 2659.7 C907.6 2658.1 914.3 2656.4 921 2654.7 C927.7 2653 934.4 2651.2 941.1 2649.4 C947.8 2647.6 954.5 2645.7 961.2 2643.8 C967.9 2641.9 974.6 2639.9 981.3 2637.8 C988 2635.8 994.7 2633.7 1001.4 2631.5 C1008.1 2629.3 1014.8 2627.1 1021.5 2624.8 C1028.2 2622.5 1034.9 2620.2 1041.6 2617.8 C1048.3 2615.4 1055 2613.1 1061.7 2610.6 C1068.4 2608.1 1075.1 2605.6 1081.8 2603 C1088.5 2600.4 1095.2 2597.8 1101.9 2595.2 C1108.6 2592.5 1115.4 2589.8 1122.1 2587.1 C1128.8 2584.3 1135.5 2581.5 1142.2 2578.7 C1148.9 2575.9 1155.6 2573.1 1162.3 2570.2 C1169 2567.3 1175.7 2564.3 1182.4 2561.4 C1189.1 2558.5 1195.8 2555.5 1202.5 2552.5 C1209.2 2549.5 1215.9 2546.5 1222.6 2543.5 C1229.3 2540.5 1236 2537.4 1242.7 2534.3 C1249.4 2531.2 1256.1 2528.2 1262.8 2525.1 C1269.5 2522 1276.2 2518.9 1282.9 2515.8 C1289.6 2512.7 1296.3 2509.6 1303 2506.5 C1309.7 2503.4 1316.4 2500.4 1323.1 2497.3 C1329.8 2494.2 1336.5 2491.2 1343.2 2488.2 C1349.9 2485.2 1356.6 2482.1 1363.3 2479.1 C1370 2476.1 1376.7 2473.1 1383.4 2470.2 C1390.1 2467.3 1396.8 2464.4 1403.5 2461.6 C1410.2 2458.8 1416.9 2455.9 1423.6 2453.2 C1430.3 2450.4 1437 2447.7 1443.7 2445.1 C1450.4 2442.5 1457.1 2439.9 1463.8 2437.4 C1470.5 2434.9 1477.2 2432.4 1483.9 2430.1 C1490.6 2427.8 1494.3 2425.8 1504 2423.3 C1513.7 2420.8 1534.2 2414.3 1542.3 2415.1 C1550.4 2415.9 1549.6 2420.4 1552.6 2427.9 C1555.6 2435.4 1558.2 2443.7 1560.2 2460 C1562.2 2476.3 1562.9 2506.8 1564.5 2526 C1566.1 2545.2 1567.2 2559.2 1570 2575 C1572.8 2590.8 1578.1 2610 1581.6 2620.8 C1585.1 2631.6 1587.5 2643.3 1591 2639.8 C1594.5 2636.3 1597.4 2601.9 1602.5 2600 C1607.6 2598.1 1616 2628.7 1621.4 2628.4 C1626.8 2628.1 1630.6 2599.6 1634.7 2598 C1638.8 2596.4 1641.3 2619 1646 2619 C1650.7 2619 1658.2 2599 1663 2598 C1667.8 2597 1670.1 2613.3 1674.6 2613 C1679 2612.7 1685.3 2596.6 1689.7 2596 C1694.1 2595.4 1696.6 2609.4 1701 2609.4 C1705.4 2609.4 1711.8 2596.9 1716.3 2596 C1720.8 2595.1 1723.2 2604.3 1727.7 2603.7 C1732.2 2603.1 1739.2 2592.9 1743 2592.3 C1746.8 2591.7 1746.7 2600.4 1750.5 2600 C1754.3 2599.6 1761.3 2590.7 1765.7 2589.7 C1770.1 2588.7 1773 2594.3 1777 2594 C1781 2593.7 1785.6 2589.2 1790 2588 C1794.4 2586.8 1795 2587.2 1803.6 2586.6 C1812.2 2586 1831.5 2584.6 1841.6 2584.7 C1851.7 2584.8 1858 2585.5 1864.3 2587.4 C1870.6 2589.3 1875.7 2591.1 1879.5 2596 C1883.3 2600.9 1885.8 2613.5 1887 2617" fill="none" stroke="#8462a6" stroke-width="5.8" stroke-linejoin="round" stroke-linecap="round"/>
<path d="M333.5 2703 C334.3 2699.7 336.2 2693.5 338.3 2683 C340.4 2672.5 343.4 2655.5 346 2640 C348.6 2624.5 351.2 2608.3 354 2590 C356.8 2571.7 359.2 2551.7 362.5 2530 C365.8 2508.3 371.1 2477.9 374 2459.6 C376.9 2441.3 378.7 2429.6 380.2 2420 C381.7 2410.4 381.8 2409.2 382.8 2402 C383.8 2394.8 385.1 2384.2 386.3 2376.5 C387.5 2368.8 388.6 2361.6 389.9 2356.1 C391.2 2350.6 392.3 2347.5 394 2343.4 C395.7 2339.3 397.2 2334.7 400 2331.6 C402.8 2328.5 407.6 2328.1 411 2324.8 C414.4 2321.6 418.2 2314.8 420.6 2312.1 C423.1 2309.4 423.9 2308.7 425.7 2308.9 C427.5 2309.1 429.8 2310.7 431.4 2313.3 C433 2316 434.1 2320.5 435.3 2324.8 C436.5 2329.1 437.4 2333 438.4 2338.9 C439.3 2344.8 440.1 2346.3 441 2360 C441.9 2373.7 442.2 2407.2 443.8 2421.3 C445.4 2435.5 447.6 2436.2 450.6 2444.9 C453.7 2453.6 457.6 2464.3 462.1 2473.6 C466.6 2482.8 471.7 2493.4 477.4 2500.4 C483.1 2507.4 490.1 2511.7 496.5 2515.7 C502.9 2519.7 509.3 2521.8 515.7 2524.3 C522.1 2526.9 529.7 2528.3 534.8 2531 C539.9 2533.7 543.4 2536.7 546.3 2540.5 C549.2 2544.3 550.1 2548.8 552 2553.9 C553.9 2559 554.3 2566 557.8 2571.1 C561.3 2576.2 568.3 2580 573.1 2584.5 C577.9 2589 581.7 2594.1 586.5 2597.9 C591.3 2601.7 596.1 2605.3 601.8 2607.5 C607.5 2609.7 614.5 2611.3 620.9 2611.3 C627.3 2611.3 632 2610.4 640 2607.5 C648 2604.6 659.1 2598.4 668.7 2594.1 C678.3 2589.8 689.2 2585.5 697.4 2581.9 C705.6 2578.3 711 2575.4 717.7 2572.5 C724.5 2569.6 731.1 2567 737.9 2564.5 C744.6 2562 751.5 2559.6 758.2 2557.3 C765 2555 771.6 2552.8 778.4 2550.6 C785.1 2548.4 792 2546.2 798.7 2544 C805.5 2541.8 812.1 2539.5 818.9 2537.2 C825.6 2534.9 832.5 2532.6 839.2 2530.2 C846 2527.8 852.6 2525.2 859.4 2522.6 C866.1 2519.9 873 2517.2 879.7 2514.3 C886.5 2511.4 893.1 2508.5 899.9 2505.4 C906.6 2502.3 913.5 2499.1 920.2 2495.8 C927 2492.5 933.6 2489 940.4 2485.4 C947.1 2481.8 954 2478.1 960.7 2474.3 C967.5 2470.5 974.1 2466.6 980.9 2462.6 C987.6 2458.6 994.4 2454.5 1001.2 2450.3 C1008 2446.1 1014.8 2441.9 1021.5 2437.6 C1028.2 2433.3 1035 2428.9 1041.7 2424.5 C1048.5 2420.1 1055.2 2415.7 1062 2411.2 C1068.8 2406.7 1075.5 2402.2 1082.2 2397.7 C1089 2393.2 1095.8 2388.7 1102.5 2384.2 C1109.2 2379.7 1116 2375.3 1122.7 2370.9 C1129.5 2366.5 1136.2 2362 1143 2357.7 C1149.8 2353.3 1156.5 2349 1163.2 2344.8 C1170 2340.6 1176.8 2336.4 1183.5 2332.3 C1190.2 2328.2 1197 2324.2 1203.7 2320.2 C1210.5 2316.2 1217.2 2312.3 1224 2308.5 C1230.8 2304.7 1237.5 2300.9 1244.2 2297.2 C1251 2293.5 1257.8 2289.8 1264.5 2286.2 C1271.2 2282.6 1278 2279 1284.7 2275.4 C1291.5 2271.8 1298.2 2268.6 1305 2264.8 C1311.8 2261 1317.8 2256.3 1325.5 2252.5 C1333.2 2248.7 1342.5 2244.8 1351 2242 C1359.5 2239.2 1372.2 2236.6 1376.5 2235.5 C1380.8 2234.4 1371.4 2235.6 1376.5 2235.3 C1381.6 2235.1 1399.9 2232.9 1407.1 2234 C1414.3 2235.1 1416.9 2236.9 1419.9 2241.6 C1422.9 2246.3 1423.5 2252.2 1425 2262 C1426.5 2271.8 1427.5 2288.4 1428.8 2300.3 C1430.1 2312.2 1430.8 2323.3 1432.7 2333.5 C1434.6 2343.7 1438 2353.2 1440.3 2361.5 C1442.6 2369.8 1443.7 2380 1446.7 2383.2 C1449.7 2386.4 1452.9 2379.6 1458.2 2380.7 C1463.5 2381.8 1471.8 2389.8 1478.6 2389.6 C1485.4 2389.4 1490.5 2381.7 1499 2379.4 C1507.5 2377.1 1518.1 2377.3 1529.6 2375.6 C1541.1 2373.9 1555.2 2371.3 1567.9 2369.2 C1580.7 2367.1 1595.5 2364.6 1606.1 2362.8 C1616.7 2361 1623.9 2359.1 1631.6 2358.5 C1639.2 2357.9 1646.9 2355.9 1652 2359 C1657.1 2362.1 1658.4 2368.7 1662.2 2376.8 C1666 2384.9 1668.7 2403.6 1675 2407.4 C1681.3 2411.2 1691.5 2402.7 1700 2399.8 C1708.5 2396.9 1716.3 2393.8 1726 2390 C1735.7 2386.2 1747.4 2381.3 1758 2377.3 C1768.6 2373.3 1778.9 2369.9 1789.4 2366 C1799.9 2362.1 1811.7 2357.1 1821 2353.6 C1830.3 2350.1 1841 2346.4 1845 2345" fill="none" stroke="#56708e" stroke-width="5.8" stroke-linejoin="round" stroke-linecap="round"/>
<path d="M333.5 2703 C333.6 2694.2 333.7 2668.8 334 2650 C334.3 2631.2 334.9 2610 335.5 2590 C336.1 2570 336.4 2551.7 337.7 2530 C339 2508.3 341.9 2477.9 343.4 2459.6 C344.9 2441.3 345.6 2430.4 346.5 2420 C347.4 2409.6 347.8 2405 348.6 2396.9 C349.4 2388.8 350.1 2379.9 351.1 2371.4 C352.1 2362.9 353.4 2354.4 354.7 2345.9 C356 2337.4 357.4 2328.1 358.8 2320.4 C360.2 2312.8 361.8 2304.9 362.9 2300 C363.9 2295.1 363.8 2296.2 365.1 2291 C366.4 2285.8 369 2274.2 370.8 2268.7 C372.6 2263.2 374.3 2260.1 375.9 2257.9 C377.5 2255.7 378.8 2255.1 380.4 2255.3 C382 2255.5 383.6 2256.3 385.5 2259.1 C387.4 2261.9 389.8 2267.7 391.9 2271.9 C394 2276.2 396.2 2279.8 398.3 2284.6 C400.4 2289.4 402.7 2295.3 404.6 2300.6 C406.5 2305.9 408.1 2311.2 409.7 2316.5 C411.3 2321.8 412.7 2326.7 414.2 2332.5 C415.7 2338.3 417.6 2346.7 418.7 2351.6 C419.8 2356.5 419.8 2356.8 421 2362 C422.2 2367.2 422.4 2376.3 425.7 2383 C429 2389.7 436.2 2396.2 441 2402.2 C445.8 2408.2 450.6 2414.7 454.4 2419 C458.2 2423.3 460.1 2424.5 463.9 2428 C467.7 2431.5 472.6 2436.2 477.4 2440 C482.2 2443.8 488.8 2448.2 492.6 2451 C496.4 2453.8 497.2 2454 500.4 2457 C503.6 2460 508.2 2465.3 511.8 2469 C515.4 2472.7 518.2 2476 522 2479 C525.8 2482 530.3 2484.5 534.8 2487 C539.3 2489.5 544.2 2491.8 549 2494 C553.8 2496.2 557.9 2498 563.5 2500.4 C569.1 2502.8 576.2 2506.8 582.6 2508.5 C589 2510.2 593.8 2510.8 601.8 2510.9 C609.8 2511 620.9 2509.8 630.5 2509 C640.1 2508.2 649.6 2507.9 659.2 2506.1 C668.8 2504.3 675.3 2503.6 687.9 2498.4 C700.5 2493.2 723.9 2479.9 735 2474.7 C746.1 2469.5 748.2 2469.8 754.8 2467.2 C761.4 2464.6 768 2461.8 774.6 2458.9 C781.2 2456 787.8 2453 794.4 2449.9 C801 2446.8 807.5 2443.5 814.1 2440.2 C820.7 2436.9 827.3 2433.4 833.9 2429.9 C840.5 2426.4 847.1 2422.8 853.7 2419.2 C860.3 2415.5 866.9 2411.8 873.5 2408 C880.1 2404.2 886.7 2400.4 893.3 2396.6 C899.9 2392.8 906.5 2388.8 913.1 2384.9 C919.7 2381 926.3 2377 932.9 2373 C939.5 2369 946.1 2365 952.7 2361 C959.3 2357 965.8 2353 972.4 2349 C979 2345 985.6 2341 992.2 2337 C998.8 2333 1005.4 2329 1012 2325.1 C1018.6 2321.2 1025.2 2317.2 1031.8 2313.3 C1038.4 2309.4 1045 2305.6 1051.6 2301.8 C1058.2 2298 1064.8 2294.2 1071.4 2290.5 C1078 2286.8 1084.6 2283.2 1091.2 2279.6 C1097.8 2276 1104.3 2272.5 1110.9 2269.1 C1117.5 2265.7 1124.1 2262.3 1130.7 2259 C1137.3 2255.7 1143.9 2252.5 1150.5 2249.4 C1157.1 2246.3 1163.7 2243.2 1170.3 2240.3 C1176.9 2237.4 1183.5 2234.5 1190.1 2231.8 C1196.7 2229.1 1203.3 2226.4 1209.9 2223.9 C1216.5 2221.4 1223.1 2219 1229.7 2216.7 C1236.3 2214.4 1242.9 2212.2 1249.5 2210.2 C1256.1 2208.1 1262.6 2206.2 1269.2 2204.4 C1275.8 2202.6 1282.4 2201 1289 2199.4 C1295.6 2197.8 1302.2 2196.4 1308.8 2195.1 C1315.4 2193.8 1323.2 2191.6 1328.6 2191.7 C1334 2191.8 1337.7 2193.8 1341.3 2195.5 C1344.9 2197.2 1347.8 2200.2 1350 2201.9 C1352.2 2203.6 1352.9 2201.8 1354.8 2205.9 C1356.7 2210 1358.8 2219.1 1361.2 2226.3 C1363.6 2233.5 1366.4 2241.7 1368.9 2249.3 C1371.5 2257 1374 2266.9 1376.5 2272.2 C1379 2277.5 1380.8 2279.5 1384.2 2281.2 C1387.6 2282.9 1392.7 2280.9 1396.9 2282.4 C1401.2 2283.9 1404.6 2288.4 1409.7 2290.1 C1414.8 2291.8 1420.4 2292.3 1427.6 2292.7 C1434.8 2293.1 1444.6 2293.1 1453.1 2292.7 C1461.6 2292.3 1468 2291.4 1478.6 2290.1 C1489.2 2288.8 1504 2286.7 1516.8 2285 C1529.5 2283.3 1543.2 2280.8 1555.1 2279.9 C1567 2279.1 1581.1 2279.1 1588.3 2279.9 C1595.5 2280.8 1595.5 2281.2 1598.5 2285 C1601.5 2288.8 1603.5 2296.1 1606.1 2302.9 C1608.6 2309.7 1610.8 2319.9 1613.8 2325.8 C1616.8 2331.8 1620.6 2336.7 1624 2338.6 C1627.4 2340.5 1631.2 2336.7 1634.2 2337.3 C1637.2 2337.9 1638 2341.7 1641.8 2342.4 C1645.6 2343.1 1650.3 2341.9 1657.1 2341.6 C1663.9 2341.3 1678.4 2340.8 1682.7 2340.6" fill="none" stroke="#e04a52" stroke-width="5.8" stroke-linejoin="round" stroke-linecap="round"/>
<path d="M1845 2305 L1878 2304" fill="none" stroke="#e04a52" stroke-width="4" stroke-linejoin="round" stroke-linecap="round"/>
<rect x="1682.7" y="2308" width="261.3" height="43.5" fill="#ffffff"/>
<circle cx="333.5" cy="2703" r="3.5" fill="#1a0a2a"/>
<line x1="1126" y1="2630.5" x2="1260.8" y2="2630.5" stroke="#f47a7a" stroke-width="6.4"/>
<line x1="1126" y1="2702.3" x2="1260.8" y2="2702.3" stroke="#8ca5c3" stroke-width="6.4"/>
<line x1="1126" y1="2785.5" x2="1260.8" y2="2785.5" stroke="#d8b6f0" stroke-width="6.4"/>
<text x="1303.8" y="2656.3" text-anchor="start" font-size="77.5" font-family="'Liberation Serif','Times New Roman',serif" fill="#231815" stroke="#231815" stroke-width="0.3">F-U-20</text>
<text x="1303.8" y="2724.5" text-anchor="start" font-size="77.5" font-family="'Liberation Serif','Times New Roman',serif" fill="#231815" stroke="#231815" stroke-width="0.3">F-U-25</text>
<text x="1303.8" y="2795.2" text-anchor="start" font-size="77.5" font-family="'Liberation Serif','Times New Roman',serif" fill="#231815" stroke="#231815" stroke-width="0.3">F-U-30</text>
<text x="299.4" y="2186.2" text-anchor="end" font-size="77.5" font-family="'Liberation Serif','Times New Roman',serif" fill="#000000" stroke="#000000" stroke-width="0.3">900</text>
<text x="299.4" y="2249.9" text-anchor="end" font-size="77.5" font-family="'Liberation Serif','Times New Roman',serif" fill="#000000" stroke="#000000" stroke-width="0.3">800</text>
<text x="299.4" y="2369.5" text-anchor="end" font-size="77.5" font-family="'Liberation Serif','Times New Roman',serif" fill="#000000" stroke="#000000" stroke-width="0.3">600</text>
<text x="299.6" y="2488.9" text-anchor="end" font-size="77.5" font-family="'Liberation Serif','Times New Roman',serif" fill="#000000" stroke="#000000" stroke-width="0.3">400</text>
<text x="299.2" y="2606.5" text-anchor="end" font-size="77.5" font-family="'Liberation Serif','Times New Roman',serif" fill="#000000" stroke="#000000" stroke-width="0.3">200</text>
<text x="302" y="2728" text-anchor="end" font-size="77.5" font-family="'Liberation Serif','Times New Roman',serif" fill="#000000" stroke="#000000" stroke-width="0.3">0</text>
<text x="299.4" y="2845.4" text-anchor="end" font-size="77.5" font-family="'Liberation Serif','Times New Roman',serif" fill="#000000" stroke="#000000" stroke-width="0.3">−200</text>
<text x="312.5" y="2913.5" text-anchor="start" font-size="77.5" font-family="'Liberation Serif','Times New Roman',serif" fill="#000000" stroke="#000000" stroke-width="0.3">00</text>
<text x="644.6" y="2913.5" text-anchor="middle" font-size="77.5" font-family="'Liberation Serif','Times New Roman',serif" fill="#000000" stroke="#000000" stroke-width="0.3">0.10</text>
<text x="956" y="2913.5" text-anchor="middle" font-size="77.5" font-family="'Liberation Serif','Times New Roman',serif" fill="#000000" stroke="#000000" stroke-width="0.3">0.20</text>
<text x="1264.2" y="2913.5" text-anchor="middle" font-size="77.5" font-family="'Liberation Serif','Times New Roman',serif" fill="#000000" stroke="#000000" stroke-width="0.3">0.30</text>
<text x="1576.5" y="2913.5" text-anchor="middle" font-size="77.5" font-family="'Liberation Serif','Times New Roman',serif" fill="#000000" stroke="#000000" stroke-width="0.3">0.40</text>
<text x="1885" y="2913.5" text-anchor="middle" font-size="77.5" font-family="'Liberation Serif','Times New Roman',serif" fill="#000000" stroke="#000000" stroke-width="0.3">0.50</text>
<text x="0" y="0" text-anchor="start" font-size="77.5" font-family="'Liberation Serif','Times New Roman',serif" fill="#000000" stroke="#000000" stroke-width="0.3" transform="translate(100.7 2602.2) rotate(-90)">Force</text>
<text x="1035.2" y="2998.9" text-anchor="start" font-size="74.5" font-family="'Noto Serif CJK SC','Noto Serif CJK JP',serif" fill="#000000" font-weight="600">位移</text>
<text x="960.4" y="3089.5" text-anchor="start" font-size="77.5" font-family="'Liberation Serif','Times New Roman',serif" fill="#231815" stroke="#231815" stroke-width="0.3">(c) 0.5 mm</text>
</svg>
</body></html>
